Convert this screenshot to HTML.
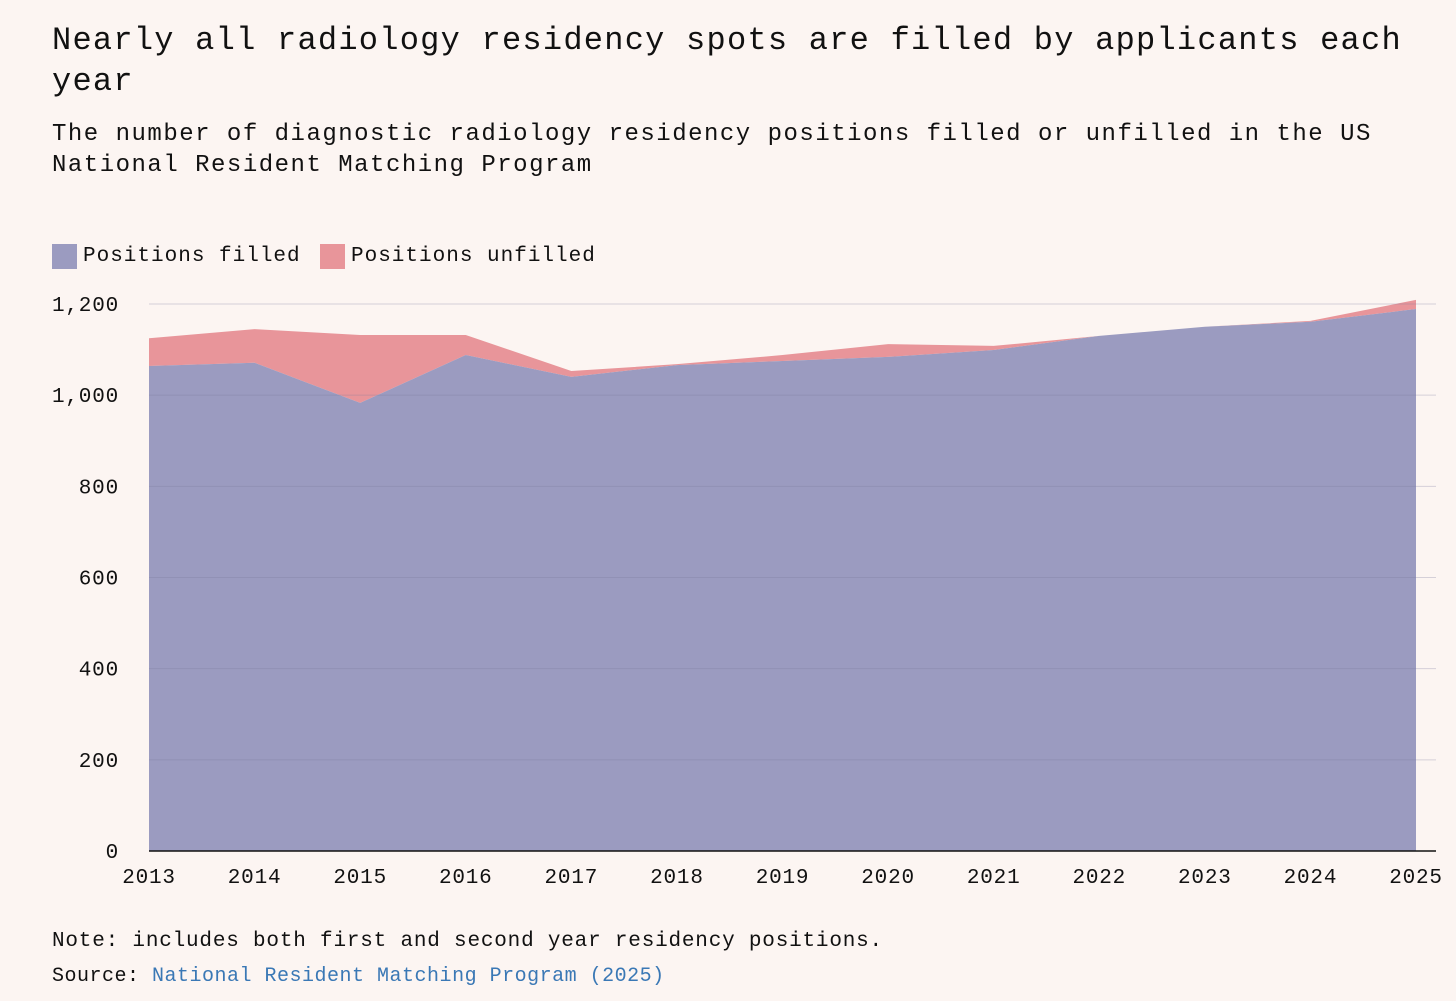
<!DOCTYPE html>
<html><head><meta charset="utf-8"><style>
body{margin:0;background:#fcf5f2;width:1456px;height:1001px;overflow:hidden;font-family:"Liberation Mono","DejaVu Sans Mono",monospace;color:#111}
.t{position:absolute;white-space:nowrap}
</style></head><body>
<div class="t" style="left:52px;top:20px;font-size:32px;letter-spacing:1.25px;line-height:41px">Nearly all radiology residency spots are filled by applicants each<br>year</div>
<div class="t" style="left:52px;top:119px;font-size:24px;letter-spacing:1.5px;line-height:31px">The number of diagnostic radiology residency positions filled or unfilled in the US<br>National Resident Matching Program</div>
<div>
<div class="t" style="left:52px;top:244px;width:25px;height:25px;background:#9b9bc0"></div>
<div class="t" style="left:83px;top:245px;font-size:21px;letter-spacing:1px">Positions filled</div>
<div class="t" style="left:320px;top:244px;width:25px;height:25px;background:#e8959a"></div>
<div class="t" style="left:351px;top:245px;font-size:21px;letter-spacing:1px">Positions unfilled</div>
</div>
<svg id="chart" width="1456" height="1001" style="position:absolute;left:0;top:0"></svg>
<div class="t" style="left:52px;top:930px;font-size:21px;letter-spacing:0.8px">Note: includes both first and second year residency positions.</div>
<div class="t" style="left:52px;top:965px;font-size:20px;letter-spacing:0.5px">Source: <span style="color:#3a78b5">National Resident Matching Program (2025)</span></div>
<script>
const years=[2013,2014,2015,2016,2017,2018,2019,2020,2021,2022,2023,2024,2025];
const filled=[1064,1071,983,1088,1040,1066,1075,1084,1099,1130,1150,1161,1189];
const unfilled=[61,74,149,44,13,2,13,28,9,0,0,2,20];
const yTicks=[0,200,400,600,800,1000,1200];
const NS="http://www.w3.org/2000/svg";
const svg=document.getElementById('chart');
const x0=149,x1=1416,yb=851,yt=304,ymax=1200;
const X=i=>x0+(x1-x0)*i/(years.length-1);
const Y=v=>yb-(yb-yt)*v/ymax;
function mk(t,a){const e=document.createElementNS(NS,t);for(const k in a)e.setAttribute(k,a[k]);svg.appendChild(e);return e;}
const tot=filled.map((f,i)=>f+unfilled[i]);
let p1="",p2="";
years.forEach((y,i)=>{p1+=(i?"L":"M")+X(i)+","+Y(tot[i]);});
for(let i=years.length-1;i>=0;i--)p1+="L"+X(i)+","+Y(filled[i]);
let e=mk('path',{d:p1+"Z",fill:'#e8959a'});


years.forEach((y,i)=>{p2+=(i?"L":"M")+X(i)+","+Y(filled[i]);});
p2+="L"+X(years.length-1)+","+yb+"L"+x0+","+yb+"Z";
e=mk('path',{d:p2,fill:'#9b9bc0'});


yTicks.forEach(v=>{
 if(v>0){const g=mk('line',{x1:x0,x2:1436,y1:Y(v),y2:Y(v),stroke:'#7a7a9a','stroke-opacity':0.3,'stroke-width':1});
 
 }
 const t=mk('text',{x:119,y:Y(v)+7,'text-anchor':'end','font-size':21,'letter-spacing':0.8,'font-family':'Liberation Mono, monospace',fill:'#111'});
 t.textContent=v.toLocaleString('en-US');
 
 
});
const ax=mk('line',{x1:x0,x2:1436,y1:yb,y2:yb,stroke:'#111','stroke-width':1.5});


years.forEach((y,i)=>{
 const t=mk('text',{x:X(i),y:883,'text-anchor':'middle','font-size':21,'letter-spacing':0.8,'font-family':'Liberation Mono, monospace',fill:'#111'});
 t.textContent=y;
 
 
});
</script>
</body></html>
